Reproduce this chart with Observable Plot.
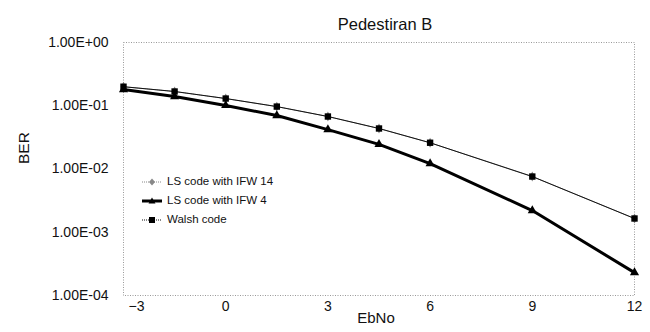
<!DOCTYPE html>
<html><head><meta charset="utf-8">
<script src="https://cdn.jsdelivr.net/npm/d3@7"></script>
<script src="https://cdn.jsdelivr.net/npm/@observablehq/plot@0.6"></script>
<style>
body{margin:0;background:#fff;font-family:"Liberation Sans",Arial,sans-serif;}
#wrap{position:relative;width:650px;height:332px;}
#legend{position:absolute;left:141px;top:172px;font-size:11.5px;color:#111;line-height:19px;}
#legend div{display:flex;align-items:center;}
#legend svg{margin-right:3px;}
</style></head><body>
<div id="wrap"><div id="chart"></div><div id="legend"></div></div>
<script>
const ebno = [-3, -1.5, 0, 1.5, 3, 4.5, 6, 9, 12];
const walsh = [0.20, 0.168, 0.130, 0.097, 0.0676, 0.0437, 0.026, 0.0076, 0.00165];
const ifw14 = [0.20, 0.168, 0.130, 0.097, 0.0676, 0.0437, 0.026, 0.0076, 0.00165];
const ifw4 = [0.18, 0.14, 0.101, 0.070, 0.042, 0.0245, 0.0122, 0.0022, 0.00023];
const yTicks = [1, 0.1, 0.01, 0.001, 0.0001];
const xTicks = [-3, 0, 3, 6, 9, 12];
const title = "Pedestiran B";
const xLabel = "EbNo";
const yLabel = "BER";
const seriesNames = ["LS code with IFW 14", "LS code with IFW 4", "Walsh code"];

const rows = (vals, s) => ebno.map((x, i) => ({x, y: vals[i], s}));
const d14 = rows(ifw14, seriesNames[0]);
const d4 = rows(ifw4, seriesNames[1]);
const dw = rows(walsh, seriesNames[2]);

const fmt = v => {
  const e = Math.round(Math.log10(v));
  return "1.00E" + (e >= 0 ? "+" : "-") + String(Math.abs(e)).padStart(2, "0");
};

const chart = Plot.plot({
  width: 650, height: 332,
  marginLeft: 123, marginRight: 16, marginTop: 42, marginBottom: 37,
  style: {fontFamily: "'Liberation Sans', Arial, sans-serif", fontSize: "14px", color: "#111", background: "#fff"},
  x: {type: "linear", domain: [-3, 12]},
  y: {type: "log", domain: [1e-4, 1]},
  marks: [
    Plot.frame({stroke: "#999", strokeDasharray: "1,1.5"}),
    Plot.axisY({ticks: yTicks, tickFormat: fmt, tickSize: 0, tickPadding: 15, label: null, fontSize: 14}),
    Plot.axisX({ticks: xTicks.filter(t => t !== -3), tickSize: 0, tickPadding: 6, label: null, fontSize: 14}),
    Plot.axisX({ticks: xTicks.filter(t => t === -3), tickSize: 0, tickPadding: 6, label: null, fontSize: 14, dx: 13}),
    Plot.line(d14, {x: "x", y: "y", stroke: "#888", strokeWidth: 1, strokeDasharray: "1,1"}),
    Plot.dot(d14, {x: "x", y: "y", symbol: "diamond", fill: "#888", r: 3}),
    Plot.line(dw, {x: "x", y: "y", stroke: "#111", strokeWidth: 1}),
    Plot.dot(dw, {x: "x", y: "y", symbol: "square", fill: "#000", r: 3.6}),
    Plot.line(d4, {x: "x", y: "y", stroke: "#000", strokeWidth: 3}),
    Plot.dot(d4, {x: "x", y: "y", symbol: "triangle", fill: "#000", r: 3.4}),
    Plot.text([title], {frameAnchor: "top", text: d => d, dy: -24, dx: 6, fontSize: 16.5}),
    Plot.text([xLabel], {frameAnchor: "bottom", text: d => d, dy: 27, dx: -3, fontSize: 15}),
    Plot.text([yLabel], {frameAnchor: "left", text: d => d, dx: -99, dy: -5, rotate: -90, fontSize: 15.5})
  ]
});
document.getElementById("chart").appendChild(chart);

const leg = document.getElementById("legend");
const styles = [
  {stroke: "#888", w: 1, dash: "1,1", shape: "diamond", fill: "#888"},
  {stroke: "#000", w: 3, dash: "", shape: "triangle", fill: "#000"},
  {stroke: "#111", w: 1, dash: "1,1", shape: "square", fill: "#000"}
];
seriesNames.forEach((name, i) => {
  const st = styles[i];
  let sym = "";
  if (st.shape === "diamond") sym = `<path d="M11,1.5L14,5L11,8.5L8,5Z" fill="${st.fill}"/>`;
  if (st.shape === "triangle") sym = `<path d="M11,1.5L14.5,7.5L7.5,7.5Z" fill="${st.fill}"/>`;
  if (st.shape === "square") sym = `<rect x="8" y="2" width="6" height="6" fill="${st.fill}"/>`;
  leg.insertAdjacentHTML("beforeend",
    `<div><svg width="23" height="10"><line x1="1" x2="21" y1="5" y2="5" stroke="${st.stroke}" stroke-width="${st.w}" stroke-dasharray="${st.dash}"/>${sym}</svg><span>${name}</span></div>`);
});
</script>
</body></html>
